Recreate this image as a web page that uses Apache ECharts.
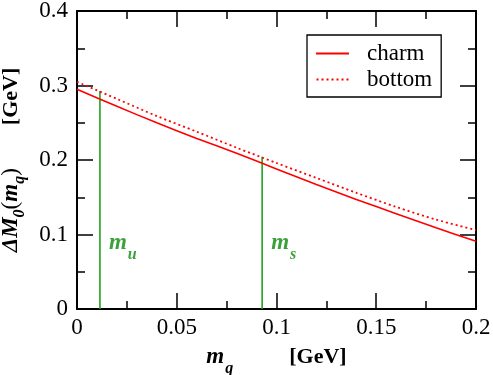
<!DOCTYPE html>
<html>
<head>
<meta charset="utf-8">
<script src="https://cdn.jsdelivr.net/npm/echarts@6/dist/echarts.min.js"></script>
<style>html,body{margin:0;padding:0;background:#fff}#c{width:493px;height:375px}</style>
</head>
<body>
<div id="c"></div>
<script>
// Data
const mq = [0, 0.02, 0.04, 0.06, 0.08, 0.10, 0.12, 0.14, 0.16, 0.18, 0.20];
const charm  = [0.295, 0.272, 0.250, 0.229, 0.209, 0.188, 0.167, 0.147, 0.128, 0.109, 0.091];
const bottom = [0.305, 0.282, 0.259, 0.238, 0.2165, 0.196, 0.176, 0.156, 0.137, 0.120, 0.106];
const quarkMasses = [0.0115, 0.0928];
const quarkLineTops = [0.2926, 0.2044];
const quarkNames = ['u', 's'];
const quarkLabelY = 0.083;
const xTickLabels = ['0', '0.05', '0.1', '0.15', '0.2'];
const yTickLabels = ['0', '0.1', '0.2', '0.3', '0.4'];

const FONT = "'Liberation Serif', 'Times New Roman', Times, serif";
const GREEN_LINE = '#22a022';
const GREEN_TEXT = '#0b8a0b';
const SOLID_ICON = 'path://M0,0h33v2h-33z';
const DOTTED_ICON = 'path://M0,0h2v2h-2zM5,0h2v2h-2zM10,0h2v2h-2zM15,0h2v2h-2zM20,0h2v2h-2zM25,0h2v2h-2zM30,0h2v2h-2z';

const zip = (xs, ys) => xs.map((x, i) => [x, ys[i]]);

const series = [
  { name: 'charm', type: 'line', data: zip(mq, charm), smooth: 0.3, symbol: 'none',
    lineStyle: { color: '#ff0000', width: 1.6 }, itemStyle: { color: '#ff0000' }, z: 5 },
  { name: 'bottom', type: 'line', data: zip(mq, bottom), smooth: 0.3, symbol: 'none',
    lineStyle: { color: '#ff0000', width: 1.8, type: [2, 3] }, itemStyle: { color: '#ff0000' }, z: 5 }
];
quarkMasses.forEach((m, i) => {
  series.push({ name: 'q' + i, type: 'line', data: [[m, 0], [m, quarkLineTops[i]]], symbol: 'none',
    lineStyle: { color: GREEN_LINE, width: 1.6 }, silent: true, z: 3 });
  series.push({ name: 'lab' + i, type: 'scatter', data: [[m, quarkLabelY]], symbolSize: 0, silent: true,
    label: { show: true, position: 'right', distance: 9,
      formatter: '{m|m}{s|' + quarkNames[i] + '}',
      rich: {
        m: { fontFamily: FONT, fontSize: 23, fontWeight: 'bold', fontStyle: 'italic', color: GREEN_TEXT, padding: [0, 1, 8, 0] },
        s: { fontFamily: FONT, fontSize: 16, fontWeight: 'bold', fontStyle: 'italic', color: GREEN_TEXT, verticalAlign: 'bottom' }
      } } });
});

const axisCommon = {
  axisLine: { show: true, onZero: false, lineStyle: { color: '#000', width: 2 } },
  axisTick: { show: true, inside: true, length: 16, lineStyle: { color: '#000', width: 1.5 } },
  minorTick: { show: true, splitNumber: 2, length: 8, lineStyle: { color: '#000', width: 1.5 } },
  splitLine: { show: false }
};

const option = {
  backgroundColor: '#fff',
  animation: false,
  textStyle: { fontFamily: FONT },
  grid: { left: 77, right: 17, top: 11, bottom: 66, containLabel: false, outerBoundsMode: 'none' },
  legend: {
    data: [{ name: 'charm', icon: SOLID_ICON }, { name: 'bottom', icon: DOTTED_ICON }],
    orient: 'vertical', left: 307, top: 35,
    padding: [7, 9, 6, 9], itemWidth: 33, itemHeight: 2, itemGap: 3,
    borderColor: '#000', borderWidth: 1.3, selectedMode: false,
    itemStyle: { color: '#ff0000', borderWidth: 0 },
    textStyle: { fontFamily: FONT, fontSize: 23, color: '#000', lineHeight: 22, padding: [0, 0, 0, 13] }
  },
  xAxis: [
    Object.assign({}, axisCommon, {
      type: 'value', min: 0, max: 0.2, interval: 0.05, position: 'bottom',
      axisLabel: { fontFamily: FONT, fontSize: 23, color: '#000', margin: 7,
        formatter: (v) => xTickLabels[Math.round(v / 0.05)] },
      name: '{m|m}{s|q}{gap|}{g|[GeV]}', nameLocation: 'middle', nameGap: 37,
      nameTextStyle: { fontFamily: FONT, rich: {
        m: { fontFamily: FONT, fontSize: 23, fontWeight: 'bold', fontStyle: 'italic', color: '#000', padding: [0, 1, 8, 0] },
        s: { fontFamily: FONT, fontSize: 16, fontWeight: 'bold', fontStyle: 'italic', color: '#000', verticalAlign: 'bottom' },
        gap: { width: 56 },
        g: { fontFamily: FONT, fontSize: 22, fontWeight: 'bold', color: '#000', padding: [0, 0, 8, 0] }
      } }
    }),
    Object.assign({}, axisCommon, {
      type: 'value', min: 0, max: 0.2, interval: 0.05, position: 'top',
      axisLabel: { show: false }
    })
  ],
  yAxis: [
    Object.assign({}, axisCommon, {
      type: 'value', min: 0, max: 0.4, interval: 0.1, position: 'left',
      axisLabel: { fontFamily: FONT, fontSize: 23, color: '#000', margin: 9,
        formatter: (v) => yTickLabels[Math.round(v / 0.1)] },
      name: '{d|ΔM}{z|0}{p|(}{m|m}{s|q}{p|)}{gap|}{g|[GeV]}', nameLocation: 'middle', nameGap: 45, nameRotate: 90,
      nameTextStyle: { fontFamily: FONT, rich: {
        d: { fontFamily: FONT, fontSize: 23, fontWeight: 'bold', fontStyle: 'italic', color: '#000', padding: [0, 0, 6, 0] },
        z: { fontFamily: FONT, fontSize: 16, fontWeight: 'bold', fontStyle: 'italic', color: '#000', verticalAlign: 'bottom' },
        p: { fontFamily: FONT, fontSize: 23, color: '#000', padding: [0, 0, 6, 0] },
        m: { fontFamily: FONT, fontSize: 23, fontWeight: 'bold', fontStyle: 'italic', color: '#000', padding: [0, 0, 6, 0] },
        s: { fontFamily: FONT, fontSize: 16, fontWeight: 'bold', fontStyle: 'italic', color: '#000', verticalAlign: 'bottom' },
        gap: { width: 43 },
        g: { fontFamily: FONT, fontSize: 22, fontWeight: 'bold', color: '#000', padding: [0, 0, 6, 0] }
      } }
    }),
    Object.assign({}, axisCommon, {
      type: 'value', min: 0, max: 0.4, interval: 0.1, position: 'right',
      axisLabel: { show: false }
    })
  ],
  series: series
};

const chart = echarts.init(document.getElementById('c'), null, { renderer: 'canvas' });
chart.setOption(option);
</script>
</body>
</html>
